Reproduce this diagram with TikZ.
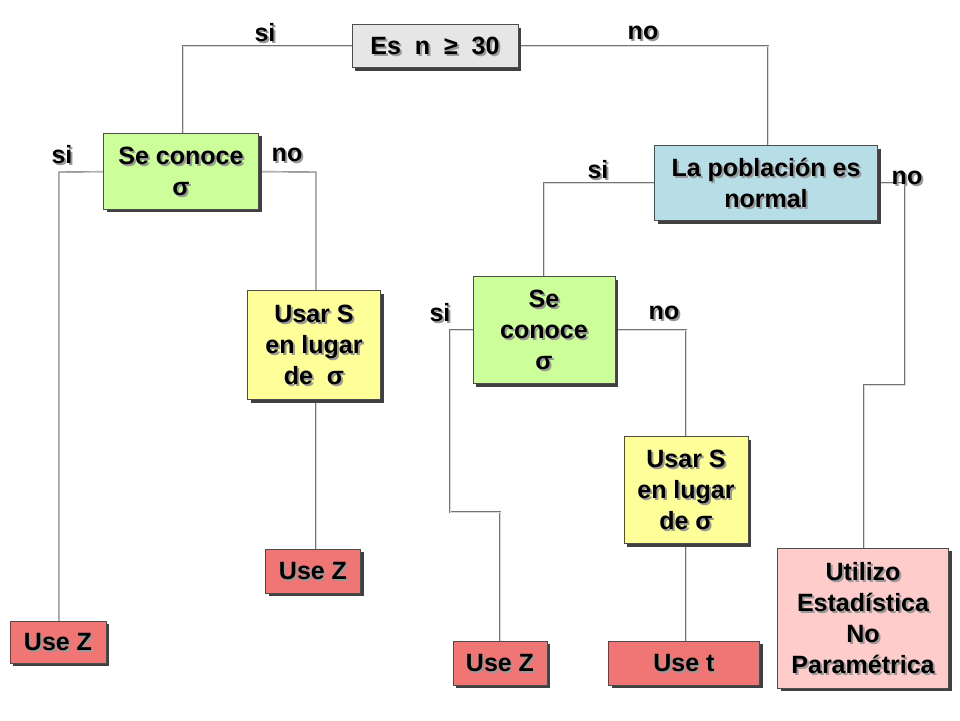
\documentclass[tikz,border=0pt]{standalone}
\usepackage{fontspec}
\setmainfont{Liberation Sans}
\definecolor{cgray}{HTML}{E6E6E6}
\definecolor{cgreen}{HTML}{CCFF99}
\definecolor{cblue}{HTML}{B7DEE6}
\definecolor{cyel}{HTML}{FFFF99}
\definecolor{cred}{HTML}{F07575}
\definecolor{cpink}{HTML}{FFCCCC}
\tikzset{
  box/.style={draw=black!70, line width=0.6pt, rectangle, inner sep=0pt},
  boxsh/.style={fill=black!75, rectangle, inner sep=0pt},
  txt/.style={font=\bfseries\fontsize{25}{31}\selectfont, align=center, text=black},
  txtsh/.style={font=\bfseries\fontsize{25}{31}\selectfont, align=center, text=black!40},
  conn/.style={draw=black!55, line width=1.4pt},
  connin/.style={draw=black!15, line width=0.5pt},
}
% name, cx, cy, w, h, fill, text
\newcommand\bx[7]{%
  \node[boxsh, minimum width=#4pt, minimum height=#5pt] at ([shift={(3pt,-3pt)}]#2,#3) {};
  \node[box, fill=#6, minimum width=#4pt, minimum height=#5pt] (#1) at (#2,#3) {};
  \node[txtsh] at ([shift={(2pt,-2pt)}]#1.center) {#7};
  \node[txt] at (#1.center) {#7};
}
\newcommand\lb[4]{%
  \node[txtsh] at ([shift={(2pt,-2pt)}]#2,#3) {#4};
  \node[txt] (#1) at (#2,#3) {#4};
}
\newcommand\cn[1]{\draw[conn] #1; \draw[connin] #1;}
\begin{document}
\begin{tikzpicture}[x=1pt,y=-1pt]
\useasboundingbox (0,0) rectangle (960,720);
\fill[white] (0,0) rectangle (960,720);
\coordinate (es0) at (435,46);
\coordinate (bl0) at (766,183);
\coordinate (g10) at (181,171);
\coordinate (g20) at (544,330);
\coordinate (y10) at (316,345);
\coordinate (y20) at (686,490);
\coordinate (c1) at (905,385);
\coordinate (c2) at (450,512);
\coordinate (c3) at (500,512);
\cn{(es0) -- (183,46) -- (183,133)}
\cn{(es0) -- (768,46) -- (768,145)}
\cn{(g10) -- (59,172) -- (59,621)}
\cn{(g10) -- (316,172) -- (316,291)}
\cn{(y10) -- (316,549)}
\cn{(bl0) -- (544,183) -- (544,277)}
\cn{(bl0) -- (905,183) -- (c1) -- (864,385) -- (864,548)}
\cn{(g20) -- (450,330) -- (c2) -- (c3) -- (500,641)}
\cn{(g20) -- (686,330) -- (686,436)}
\cn{(y20) -- (686,641)}
% boxes
\bx{es}{435}{46}{166}{43}{cgray}{Es\ \ n\ \ ≥\ \ 30}
\bx{g1}{181}{171}{155}{76}{cgreen}{Se conoce\\σ}
\bx{bl}{766}{183}{223}{75}{cblue}{La población es\\normal}
\bx{y1}{314}{345}{133}{109}{cyel}{Usar S\\en lugar\\de\ \ σ}
\bx{g2}{544}{330}{142}{107}{cgreen}{Se\\conoce\\σ}
\bx{y2}{686}{490}{124}{107}{cyel}{Usar S\\en lugar\\de σ}
\bx{uz1}{58}{642}{96}{42}{cred}{Use Z}
\bx{uz2}{313}{571}{95}{44}{cred}{Use Z}
\bx{uz3}{500}{663}{94}{44}{cred}{Use Z}
\bx{ut}{684}{663}{151}{44}{cred}{Use t}
\bx{pk}{863}{618}{171}{140}{cpink}{Utilizo\\Estadística\\No\\Paramétrica}
% labels
\lb{l1}{265}{33}{si}
\lb{l2}{643}{33}{no}
\lb{l3}{62}{155}{si}
\lb{l4}{287}{155}{no}
\lb{l5}{598}{170}{si}
\lb{l6}{907}{178}{no}
\lb{l7}{440}{313}{si}
\lb{l8}{664}{313}{no}
\end{tikzpicture}
\end{document}
